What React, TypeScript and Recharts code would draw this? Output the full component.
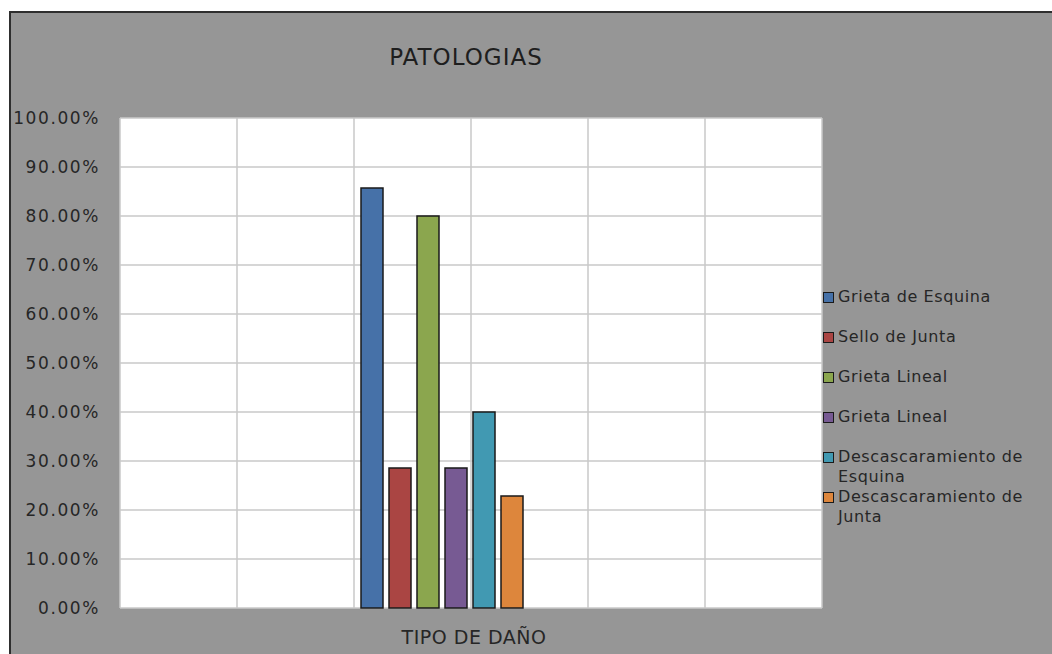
import { BarChart, Bar, XAxis, YAxis, CartesianGrid, Legend } from "recharts";

const category = "TIPO DE DAÑO";
const seriesNames = [
  "Grieta de Esquina",
  "Sello de Junta",
  "Grieta Lineal",
  "Grieta Lineal",
  "Descascaramiento de Esquina",
  "Descascaramiento de Junta",
];
const seriesValues = [0.8571, 0.2857, 0.8, 0.2857, 0.4, 0.2286];
const seriesColors = ["#4671A8", "#AA4543", "#8BA64E", "#775A93", "#4199B2", "#DD863C"];
const yTicks = [0, 0.1, 0.2, 0.3, 0.4, 0.5, 0.6, 0.7, 0.8, 0.9, 1];
const gridColumnCount = 6;

const row: Record<string, string | number> = { category };
seriesValues.forEach((v, i) => {
  row["s" + i] = v;
});
const data = [row];

const font = "'DejaVu Sans', Verdana, sans-serif";

// legend keeps the series order (recharts would sort it by name)
function LegendBox() {
  return (
    <div style={{ fontFamily: font, fontSize: 16, letterSpacing: 0.6, color: "#262626" }}>
      {seriesNames.map((name, i) => (
        <div key={i} style={{ display: "flex", alignItems: "flex-start", height: 40 }}>
          <span
            style={{
              display: "inline-block",
              width: 9,
              height: 9,
              marginTop: 5,
              marginRight: 4,
              marginLeft: 1,
              flex: "none",
              background: seriesColors[i],
              border: "1.5px solid #1a1a1a",
            }}
          />
          <span style={{ lineHeight: "20px" }}>{name}</span>
        </div>
      ))}
    </div>
  );
}

const gridColumns = ({ offset }: any) =>
  Array.from({ length: gridColumnCount + 1 }, (_, k) => offset.left + (k * offset.width) / gridColumnCount);

export default function App() {
  return (
    <div
      style={{
        position: "absolute",
        left: 0,
        top: 0,
        width: 1052,
        height: 654,
        background: "#fff",
        overflow: "hidden",
      }}
    >
      <div
        style={{
          position: "absolute",
          left: 9,
          top: 11,
          width: 1100,
          height: 700,
          background: "#969696",
          borderLeft: "2px solid #2e2e2e",
          borderTop: "2px solid #2e2e2e",
        }}
      />
      <div
        style={{
          position: "absolute",
          left: 0,
          top: 44,
          width: 932,
          textAlign: "center",
          fontFamily: font,
          fontSize: 23,
          letterSpacing: 1,
          color: "#1e1e1e",
        }}
      >
        PATOLOGIAS
      </div>
      <div style={{ position: "absolute", left: 0, top: 0 }}>
        <BarChart
          width={1052}
          height={654}
          data={data}
          margin={{ top: 118, right: 0, bottom: 0, left: 10 }}
          barCategoryGap={0}
          barGap={6}
        >
          <CartesianGrid
            fill="#ffffff"
            stroke="#c8c8c8"
            strokeWidth={1.5}
            verticalCoordinatesGenerator={gridColumns}
          />
          <XAxis
            dataKey="category"
            tick={false}
            axisLine={false}
            tickLine={false}
            height={46}
            padding={{ left: 241, right: 299 }}
            label={{
              value: category,
              position: "insideBottom",
              offset: 10,
              dx: 3,
              fill: "#262626",
              fontSize: 19,
              fontFamily: font,
              letterSpacing: 0.5,
            }}
          />
          <YAxis
            domain={[0, 1]}
            ticks={yTicks}
            width={110}
            axisLine={false}
            tickLine={false}
            tickMargin={14}
            tickFormatter={(v: number) => (v * 100).toFixed(2) + "%"}
            tick={{ fill: "#262626", fontSize: 17, fontFamily: font, letterSpacing: 1.6 }}
          />
          <Legend
            layout="vertical"
            align="right"
            verticalAlign="middle"
            content={LegendBox}
            wrapperStyle={{ width: 230, top: 287 }}
          />
          {seriesNames.map((name, i) => (
            <Bar
              key={i}
              dataKey={"s" + i}
              name={name}
              fill={seriesColors[i]}
              stroke="#1a1a1a"
              strokeWidth={1.5}
              isAnimationActive={false}
            />
          ))}
        </BarChart>
      </div>
    </div>
  );
}
